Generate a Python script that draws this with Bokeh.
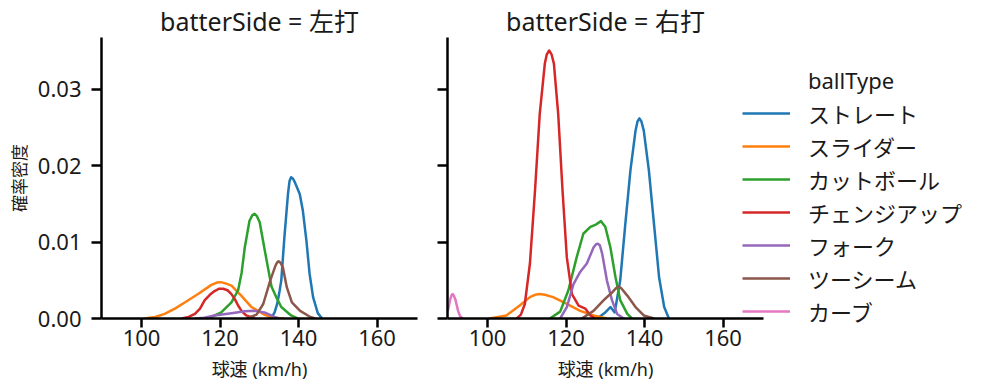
from bokeh.plotting import figure
from bokeh.layouts import row
from bokeh.models import Range1d, FixedTicker, NumeralTickFormatter, Legend, LegendItem
from bokeh.embed import file_html
from bokeh.resources import INLINE

FONT_CJK = "Noto Sans CJK JP"
FONT_MIX = "Noto Sans, Noto Sans CJK JP"

ball_types = ["ストレート", "スライダー", "カットボール", "チェンジアップ", "フォーク", "ツーシーム", "カーブ"]
colors = ["#1f77b4", "#ff7f0e", "#2ca02c", "#d62728", "#9467bd", "#8c564b", "#e377c2"]
panel_titles = ["batterSide = 左打", "batterSide = 右打"]
legend_title = "ballType"
x_label = "球速 (km/h)"
y_label = "確率密度"
x_ticks = [100, 120, 140, 160]
y_ticks = [0.0, 0.01, 0.02, 0.03]

# ---- left panel (左打): speed (km/h) and density ----
L_straight_v = [132.2, 133.2, 133.9, 134.6, 135.2, 135.6, 136.4, 137.3, 137.7, 138.1, 138.6, 139.0, 140.3, 141.1, 142.0, 142.8, 143.7, 144.9, 146.0]
L_straight_d = [0.0, 0.0002, 0.0008, 0.0020, 0.0037, 0.0050, 0.0107, 0.0163, 0.0180, 0.0185, 0.0183, 0.0179, 0.0163, 0.0141, 0.0102, 0.0059, 0.0028, 0.0007, 0.0]
L_slider_v = [100.8, 103.5, 105.9, 108.5, 111.0, 114.4, 117.8, 119.2, 120.2, 121.4, 122.9, 125.4, 128.0, 131.3, 133.8, 136.4]
L_slider_d = [0.0, 0.0002, 0.0006, 0.0013, 0.0021, 0.0032, 0.0044, 0.0047, 0.00476, 0.0046, 0.0043, 0.0030, 0.0015, 0.0005, 0.0001, 0.0]
L_cutter_v = [117.0, 120.3, 122.9, 124.6, 125.5, 126.3, 127.5, 128.2, 128.8, 129.4, 130.1, 131.4, 133.1, 134.3, 135.6, 138.1, 139.8]
L_cutter_d = [0.0, 0.0008, 0.0021, 0.0037, 0.0060, 0.0093, 0.0128, 0.0135, 0.0137, 0.0134, 0.0126, 0.0089, 0.0042, 0.0028, 0.0015, 0.0004, 0.0]
L_change_v = [110.2, 112.0, 113.6, 114.9, 116.1, 117.4, 118.6, 119.8, 120.8, 121.9, 122.9, 123.8, 124.6, 125.6, 126.7, 128.8]
L_change_d = [0.0, 0.0002, 0.0006, 0.0013, 0.0024, 0.0031, 0.0036, 0.0039, 0.0039, 0.0037, 0.0032, 0.0025, 0.0017, 0.0009, 0.0004, 0.0]
L_fork_v = [113.6, 116.0, 118.6, 122.9, 126.3, 128.8, 131.3, 133.9, 135.0]
L_fork_d = [0.0, 0.0001, 0.0004, 0.0007, 0.00096, 0.0010, 0.0008, 0.0002, 0.0]
L_twoseam_v = [126.8, 129.3, 131.0, 132.8, 134.1, 134.5, 134.9, 135.4, 136.0, 137.0, 138.3, 140.4, 143.0, 144.2]
L_twoseam_d = [0.0, 0.0005, 0.0019, 0.0050, 0.0069, 0.0073, 0.0075, 0.0073, 0.0067, 0.0041, 0.0021, 0.0010, 0.0002, 0.0]

# ---- right panel (右打) ----
R_straight_v = [127.9, 130.0, 131.3, 132.4, 133.8, 135.1, 136.4, 137.7, 138.2, 138.7, 139.2, 139.8, 141.1, 142.4, 143.7, 145.0, 146.2]
R_straight_d = [0.0, 0.0008, 0.0015, 0.0008, 0.0050, 0.0124, 0.0194, 0.0246, 0.0258, 0.0262, 0.0258, 0.0246, 0.0194, 0.0124, 0.0054, 0.0015, 0.0]
R_slider_v = [100.5, 104.8, 108.2, 110.8, 112.1, 113.3, 114.6, 116.7, 120.2, 123.6, 127.0, 130.4]
R_slider_d = [0.0, 0.0004, 0.0017, 0.0028, 0.0031, 0.0032, 0.0031, 0.0028, 0.0019, 0.0010, 0.0004, 0.0]
R_cutter_v = [115.9, 118.5, 120.6, 122.7, 124.4, 126.2, 127.6, 128.9, 130.0, 131.3, 132.6, 133.8, 135.6, 136.8]
R_cutter_d = [0.0, 0.0009, 0.0037, 0.0080, 0.0111, 0.0120, 0.0123, 0.01275, 0.0120, 0.0093, 0.0054, 0.0024, 0.0006, 0.0]
R_change_v = [107.4, 108.5, 109.5, 110.8, 112.1, 113.3, 114.6, 115.1, 115.7, 116.3, 116.9, 118.0, 119.1, 120.2, 121.5, 123.2, 124.9, 126.2, 127.4]
R_change_d = [0.0, 0.0005, 0.0019, 0.0072, 0.0168, 0.0268, 0.0334, 0.0346, 0.0351, 0.0346, 0.0334, 0.0268, 0.0168, 0.0080, 0.0032, 0.0017, 0.0013, 0.0004, 0.0]
R_fork_v = [118.5, 120.2, 121.9, 123.6, 125.3, 127.0, 127.6, 128.1, 128.6, 129.2, 130.4, 131.7, 133.0, 134.7]
R_fork_d = [0.0, 0.0015, 0.0045, 0.0061, 0.0072, 0.0093, 0.0097, 0.0098, 0.0096, 0.0085, 0.0050, 0.0024, 0.0006, 0.0]
R_twoseam_v = [124.0, 127.0, 129.6, 131.7, 132.8, 133.4, 134.0, 135.6, 137.7, 139.8, 142.4]
R_twoseam_d = [0.0, 0.0010, 0.0024, 0.0034, 0.0040, 0.0042, 0.0040, 0.0030, 0.0015, 0.0004, 0.0]
R_curve_v = [89.9, 90.5, 90.8, 91.1, 91.4, 91.8, 92.5, 93.0, 93.7]
R_curve_d = [0.0010, 0.0025, 0.0030, 0.0032, 0.0030, 0.0025, 0.0010, 0.0003, 0.0]

left_series = [
    (L_straight_v, L_straight_d), (L_slider_v, L_slider_d), (L_cutter_v, L_cutter_d),
    (L_change_v, L_change_d), (L_fork_v, L_fork_d), (L_twoseam_v, L_twoseam_d), None,
]
right_series = [
    (R_straight_v, R_straight_d), (R_slider_v, R_slider_d), (R_cutter_v, R_cutter_d),
    (R_change_v, R_change_d), (R_fork_v, R_fork_d), (R_twoseam_v, R_twoseam_d), (R_curve_v, R_curve_d),
]

x_range = Range1d(89.8, 170.3)
y_range = Range1d(0.0, 0.0368)


def make_fig(title, border_left, border_right, show_y):
    p = figure(frame_width=316, frame_height=281,
               min_border_left=border_left, min_border_right=border_right,
               min_border_top=37, min_border_bottom=73,
               x_range=x_range, y_range=y_range,
               output_backend="svg", toolbar_location=None, title=title)
    p.title.text_font = FONT_MIX
    p.title.text_font_size = "25px"
    p.title.text_font_style = "normal"
    p.title.align = "center"
    p.title.standoff = 0
    p.title.text_color = "#1a1a1a"
    p.outline_line_color = None
    p.xgrid.visible = False
    p.ygrid.visible = False
    p.background_fill_color = "white"
    p.border_fill_color = "white"
    for ax in (p.xaxis[0], p.yaxis[0]):
        ax.axis_line_width = 2.5
        ax.axis_line_color = "black"
        ax.major_tick_line_width = 2.5
        ax.major_tick_line_color = "black"
        ax.major_tick_in = 0
        ax.minor_tick_line_color = None
        ax.major_label_text_font = FONT_MIX
        ax.major_label_text_font_size = "22px"
        ax.major_label_text_color = "#1a1a1a"
        ax.axis_label_text_font = FONT_MIX
        ax.axis_label_text_font_style = "normal"
        ax.axis_label_text_color = "#1a1a1a"
    p.xaxis.major_tick_out = 9
    p.yaxis.major_tick_out = 10
    p.xaxis.ticker = FixedTicker(ticks=x_ticks)
    p.yaxis.ticker = FixedTicker(ticks=y_ticks)
    p.yaxis.formatter = NumeralTickFormatter(format="0.00")
    p.xaxis.axis_label = x_label
    p.xaxis.axis_label_text_font_size = "18px"
    p.xaxis.major_label_standoff = 2
    p.xaxis.axis_label_standoff = 8
    if show_y:
        p.yaxis.axis_label = y_label
        p.yaxis.axis_label_text_font_size = "17px"
        p.yaxis.major_label_standoff = 10
        p.yaxis.axis_label_standoff = 4
    else:
        p.yaxis.major_label_text_font_size = "0px"
        p.yaxis.major_label_text_color = None
        p.yaxis.major_label_standoff = 0
    return p


p1 = make_fig(panel_titles[0], 101, 15, True)
p2 = make_fig(panel_titles[1], 15, 224, False)

for (s, c) in zip(left_series, colors):
    if s is not None:
        p1.line(s[0], s[1], line_color=c, line_width=2.5, line_join="round")

# an empty, invisible line gives the legend its heading row ("ballType")
title_renderer = p2.line([], [], line_alpha=0)
renderers = []
for (s, c) in zip(right_series, colors):
    r = p2.line(s[0], s[1], line_color=c, line_width=2.5, line_join="round")
    renderers.append(r)

items = [LegendItem(label=legend_title, renderers=[title_renderer])]
items += [LegendItem(label=bt, renderers=[r]) for bt, r in zip(ball_types, renderers)]
legend = Legend(items=items, location=(-21, -9), orientation="vertical")
legend.border_line_color = None
legend.background_fill_alpha = 0
legend.padding = 0
legend.margin = 0
legend.glyph_width = 48
legend.glyph_height = 32
legend.label_height = 32
legend.spacing = 1
legend.label_standoff = 18
legend.label_text_font = FONT_MIX
legend.label_text_font_size = "22px"
legend.label_text_color = "#1a1a1a"
legend.label_text_baseline = "middle"
p2.add_layout(legend, "right")

layout = row(p1, p2)
open("out.html", "w").write(file_html(layout, INLINE))
